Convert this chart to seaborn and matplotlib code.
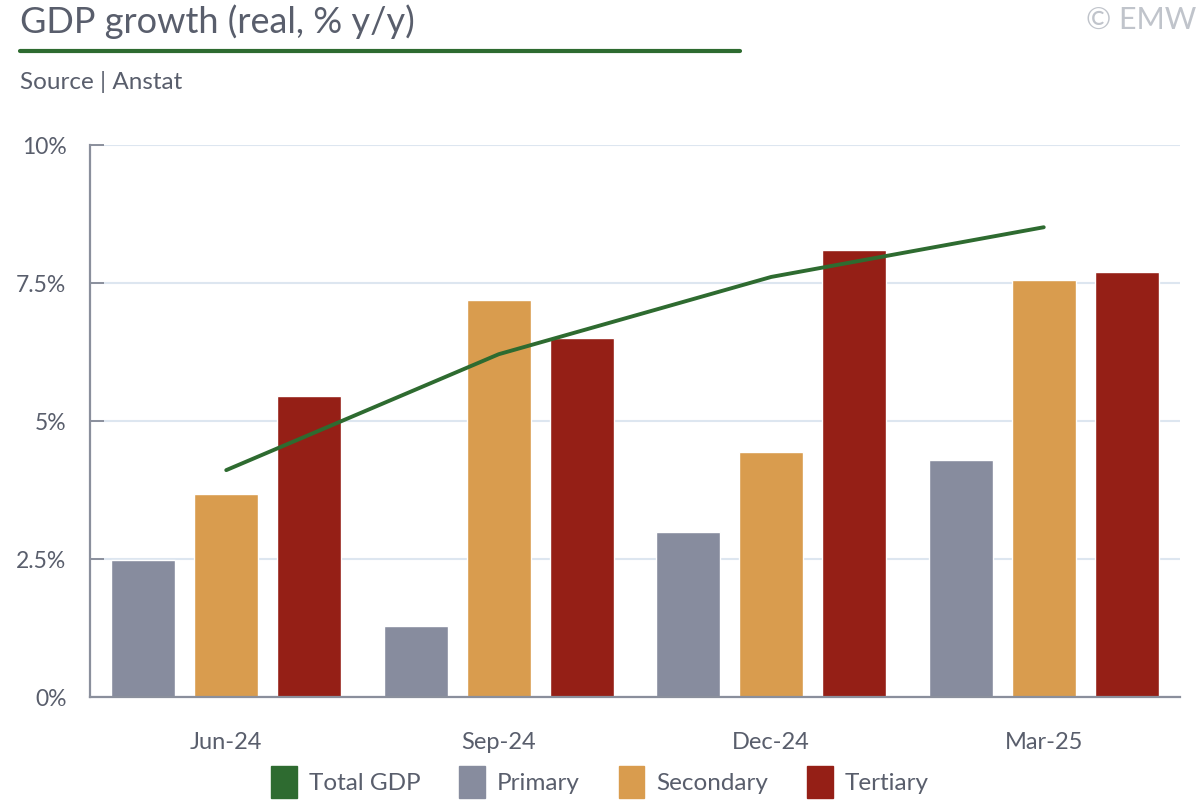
import numpy as np
import pandas as pd
import seaborn as sns
import matplotlib.pyplot as plt
from matplotlib.patches import Patch
from matplotlib.lines import Line2D

quarters = ["Jun-24", "Sep-24", "Dec-24", "Mar-25"]
sectors = ["Primary", "Secondary", "Tertiary"]
primary = [2.48, 1.29, 2.99, 4.29]
secondary = [3.68, 7.19, 4.44, 7.55]
tertiary = [5.45, 6.50, 8.10, 7.70]
total_gdp = [4.11, 6.21, 7.61, 8.51]
yticks = [0, 2.5, 5, 7.5, 10]
ytick_labels = ["0%", "2.5%", "5%", "7.5%", "10%"]

green = "#2e6b30"
colors = {"Primary": "#878c9e", "Secondary": "#d99c4e", "Tertiary": "#951f16"}
text_col = "#595e6c"
axis_col = "#8a8f9c"

sns.set_theme(style="white")
plt.rcParams['font.family'] = ['Lato', 'DejaVu Sans']

df = pd.DataFrame({
    "quarter": quarters * 3,
    "sector": np.repeat(sectors, len(quarters)),
    "value": primary + secondary + tertiary,
})

fig = plt.figure(figsize=(12, 8), dpi=100)
ax = fig.add_axes([0.075, 0.12875, 0.90833, 0.69])
ax.set_axisbelow(True)
sns.barplot(data=df, x="quarter", y="value", hue="sector", order=quarters,
            hue_order=sectors, palette=colors, width=0.915, gap=0.23,
            saturation=1, legend=False, ax=ax)
sns.lineplot(x=np.arange(len(quarters)), y=total_gdp, color=green, lw=2.8, ax=ax)

ax.set_xlim(-0.5, len(quarters) - 0.5)
ax.set_ylim(0, 10)
ax.set_yticks(yticks)
ax.set_yticklabels(ytick_labels)
ax.set_xlabel("")
ax.set_ylabel("")
ax.yaxis.grid(True, color="#dde6f0", lw=1.5)
ax.xaxis.grid(False)
for s in ["top", "right"]:
    ax.spines[s].set_visible(False)
for s in ["left", "bottom"]:
    ax.spines[s].set_color(axis_col)
    ax.spines[s].set_linewidth(1.6)
ax.set_xticks(np.arange(len(quarters)))
ax.set_xticklabels(quarters)
ax.set_xticks(np.arange(len(quarters)) + 0.5, minor=True)
ax.tick_params(axis="x", which="major", length=0, pad=25, labelsize=17, labelcolor=text_col)
ax.tick_params(axis="x", which="minor", direction="in", length=10, width=1.4, color=axis_col)
ax.tick_params(axis="y", direction="in", length=10, width=1.4, color=axis_col, pad=17,
               labelsize=16.5, labelcolor=text_col, left=True)

fig.text(20 / 1200, 1 - 22 / 800, "GDP growth (real, % y/y)", fontsize=26,
         color=text_col, va="center", ha="left")
fig.add_artist(Line2D([20 / 1200, 740 / 1200], [1 - 51 / 800] * 2, lw=3, color=green))
fig.text(20 / 1200, 1 - 82 / 800, "Source | Anstat", fontsize=17.5, color=text_col,
         va="center", ha="left")
fig.text(1196 / 1200, 1 - 20 / 800, "© EMW", fontsize=22, color="#c0c4cb",
         va="center", ha="right")

handles = [Patch(color=green, label="Total GDP")] + [Patch(color=colors[s], label=s) for s in sectors]
fig.legend(handles=handles, loc="center", bbox_to_anchor=(0.5, 1 - 782 / 800), ncol=4,
           frameon=False, fontsize=17.5, handlelength=1.05, handleheight=1.6,
           handletextpad=0.5, columnspacing=1.6, labelcolor=text_col)

fig.savefig("out.png", dpi=100)
